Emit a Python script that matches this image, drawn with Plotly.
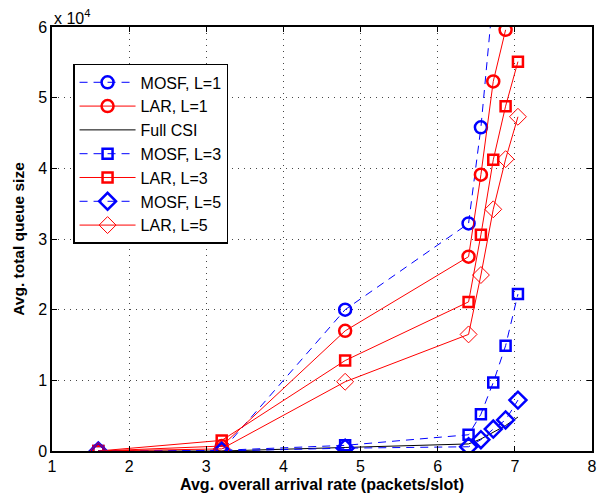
import plotly.graph_objects as go

x = [1.6, 3.2, 4.8, 6.4, 6.56, 6.72, 6.88, 7.04]

mosf_l1 = [0, 0, 20000, 32200, 45800, 64500]
lar_l1 = [0, 700, 17000, 27500, 39100, 52300, 59600]
full_csi = [0, 0, 500, 1000, 1700, 2600, 3600, 4800]
mosf_l3 = [0, 100, 800, 2300, 5200, 9700, 14900, 22200]
lar_l3 = [0, 1500, 12800, 21100, 30600, 41200, 48800, 55100]
mosf_l5 = [0, 0, 400, 600, 1600, 3100, 4400, 7200]
lar_l5 = [0, 300, 9800, 16500, 24900, 34200, 41300, 47300]

y_ticks = [0, 10000, 20000, 30000, 40000, 50000, 60000]
y_ticktext = ["0", "1", "2", "3", "4", "5", "6"]
x_ticks = [1, 2, 3, 4, 5, 6, 7, 8]

RED = "rgb(255,0,0)"
BLUE = "rgb(0,0,255)"
DASH = "8px,6px"

fig = go.Figure()

def add(name, xs, ys, color, symbol, size, mlw, dash=None):
    fig.add_trace(go.Scatter(
        x=xs[:len(ys)], y=ys, name=name, mode="lines+markers",
        line=dict(color=color, width=1, dash=dash),
        marker=dict(symbol=symbol, size=size, color=color,
                    line=dict(color=color, width=mlw)),
    ))

add("MOSF, L=1", x, mosf_l1, BLUE, "circle-open", 12, 2.5, DASH)
add("LAR, L=1", x, lar_l1, RED, "circle-open", 12, 2.5)
fig.add_trace(go.Scatter(x=x, y=full_csi, name="Full CSI", mode="lines",
                         line=dict(color="black", width=1)))
add("MOSF, L=3", x, mosf_l3, BLUE, "square-open", 10, 2.5, DASH)
add("LAR, L=3", x, lar_l3, RED, "square-open", 10, 2.5)
add("MOSF, L=5", x, mosf_l5, BLUE, "diamond-open", 13, 2.5, DASH)
add("LAR, L=5", x, lar_l5, RED, "diamond-open", 13, 1)

FONT = "Liberation Sans, Arial, Helvetica, sans-serif"
GRID = "rgb(70,70,70)"

fig.update_layout(
    width=612, height=502,
    margin=dict(l=52, r=20, t=27, b=51),
    paper_bgcolor="white", plot_bgcolor="white",
    font=dict(family=FONT, size=16, color="black"),
    showlegend=True,
    legend=dict(
        x=0.039, y=0.913, xanchor="left", yanchor="top",
        bgcolor="white", bordercolor="black", borderwidth=1.5,
        font=dict(size=16, family=FONT), itemwidth=56, tracegroupgap=0,
    ),
    xaxis=dict(
        range=[1, 8], tickvals=x_ticks, showline=True, linecolor="black",
        linewidth=1.5, mirror="ticks", ticks="inside", ticklen=5,
        tickcolor="black", showgrid=True, gridcolor=GRID,
        griddash="1px,5px", gridwidth=1, zeroline=False,
        title=dict(text="<b>Avg. overall arrival rate (packets/slot)</b>",
                   font=dict(size=16), standoff=5),
        tickfont=dict(size=16),
    ),
    yaxis=dict(
        range=[0, 60000], tickvals=y_ticks, ticktext=y_ticktext,
        showline=True, linecolor="black", linewidth=1.5, mirror="ticks",
        ticks="inside", ticklen=5, tickcolor="black", showgrid=True,
        gridcolor=GRID, griddash="1px,5px", gridwidth=1,
        zeroline=False,
        title=dict(text="<b>Avg. total queue size</b>", font=dict(size=15.5),
                   standoff=10),
        tickfont=dict(size=16),
    ),
    annotations=[dict(
        text="x 10<sup>4</sup>", xref="paper", yref="paper", x=0, y=1,
        xanchor="left", yanchor="bottom", showarrow=False,
        font=dict(size=16), yshift=-2,
    )],
)

fig.write_html("out.html")
